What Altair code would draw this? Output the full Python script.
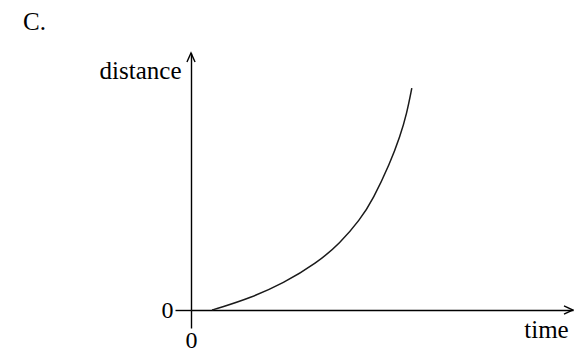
import altair as alt
import pandas as pd

# distance-time curve (arbitrary units, both axes run 0..10)
time_vals = [0.55, 0.76, 1.54, 2.42, 3.29, 3.90, 4.42, 4.77, 5.21, 5.47, 5.65, 5.78]
dist_vals = [0.00, 0.09, 0.46, 1.04, 1.82, 2.60, 3.50, 4.32, 5.71, 6.74, 7.65, 8.63]

x_max = 10
y_max = 10

curve = pd.DataFrame({"time": time_vals, "distance": dist_vals})
x_scale = alt.Scale(domain=[0, x_max], nice=False, zero=False)
y_scale = alt.Scale(domain=[0, y_max], nice=False, zero=False)

FONT = "Liberation Serif"
FS = 25

x_axis = alt.Axis(
    values=[0], grid=False, domainColor="black", domainWidth=1.4,
    tickColor="black", tickWidth=1.4, tickSize=18,
    labelFont=FONT, labelFontSize=24, labelColor="black", labelPadding=0,
    labelFlush=False, labelAlign="center",
    title="time", titleFont=FONT, titleFontSize=FS, titleFontWeight="normal",
    titleColor="black", titleAngle=0, titleAlign="center",
    titleBaseline="alphabetic", titleX=355, titleY=27,
)
y_axis = alt.Axis(
    values=[0], grid=False, domainColor="black", domainWidth=1.4,
    tickColor="black", tickWidth=1.4, tickSize=16,
    labelFont=FONT, labelFontSize=24, labelColor="black", labelPadding=2,
    labelFlush=False, labelBaseline="middle",
    title="distance", titleFont=FONT, titleFontSize=FS, titleFontWeight="normal",
    titleColor="black", titleAngle=0, titleAlign="right",
    titleBaseline="alphabetic", titleX=-10, titleY=25,
)

line = alt.Chart(curve).mark_line(
    color="#1a1a1a", strokeWidth=1.5, interpolate="basis"
).encode(
    x=alt.X("time:Q", scale=x_scale, axis=x_axis),
    y=alt.Y("distance:Q", scale=y_scale, axis=y_axis),
)

# open arrowheads at the ends of both axes
heads = pd.DataFrame({"time": [0, x_max], "distance": [y_max, 0], "angle": [0, 90]})
chevron = "M-0.45,1L0,0L0.45,1"
arrows = alt.Chart(heads).mark_point(
    shape=chevron, filled=False, color="black", strokeWidth=1.4, size=324, opacity=1
).encode(
    x=alt.X("time:Q", scale=x_scale),
    y=alt.Y("distance:Q", scale=y_scale),
    angle=alt.Angle("angle:Q", scale=None),
)

label = alt.Chart(pd.DataFrame({"t": ["C."]})).mark_text(
    font=FONT, fontSize=FS, color="black", align="left", baseline="alphabetic"
).encode(x=alt.value(-168), y=alt.value(-23), text="t:N")

chart = alt.layer(line, arrows, label).properties(
    width=382, height=257,
    padding={"left": 191, "top": 53, "right": 1, "bottom": 41},
    autosize=alt.AutoSizeParams(type="none"),
    background="white",
).configure_view(stroke=None)

chart.save("out.html", embed_options={"renderer": "svg", "actions": False})
